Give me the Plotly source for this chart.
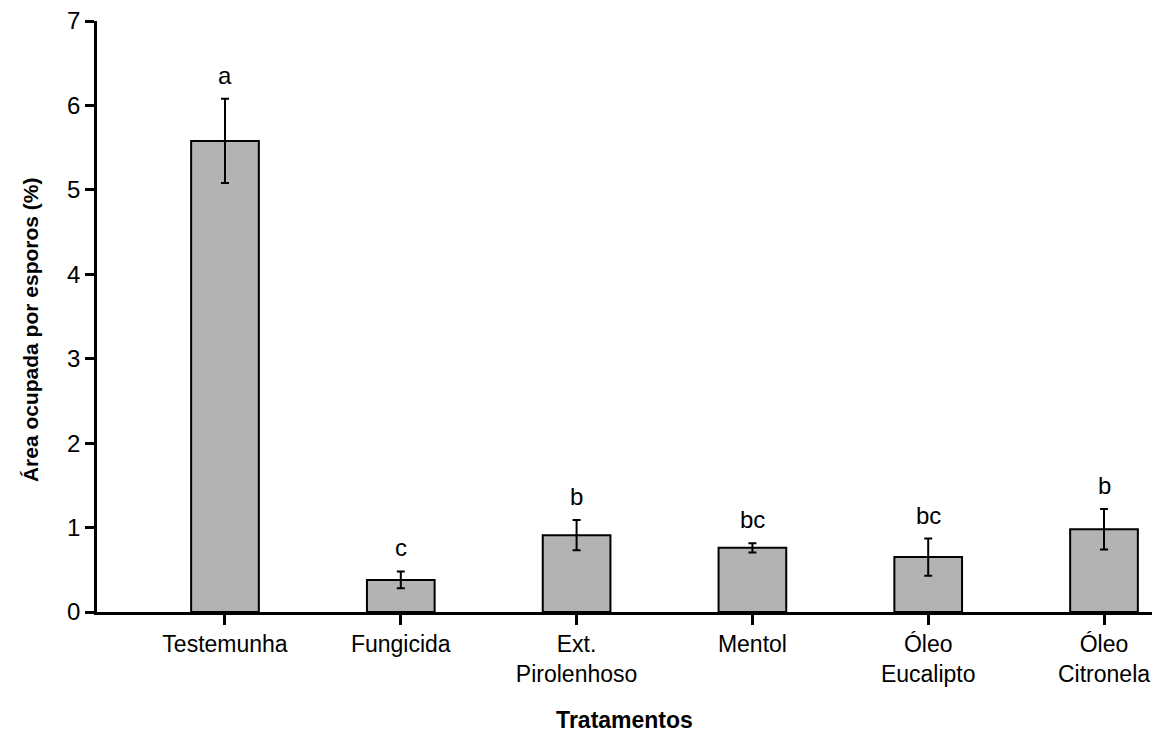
import plotly.graph_objects as go

categories = ["Testemunha", "Fungicida", "Ext.<br>Pirolenhoso", "Mentol", "Óleo<br>Eucalipto", "Óleo<br>Citronela"]
means = [5.58, 0.38, 0.91, 0.76, 0.65, 0.98]
errors = [0.50, 0.10, 0.18, 0.055, 0.22, 0.24]
letters = ["a", "c", "b", "bc", "bc", "b"]
y_ticks = [0, 1, 2, 3, 4, 5, 6, 7]

FONT = "Liberation Sans, Arial, sans-serif"
x_idx = list(range(len(categories)))

fig = go.Figure()
fig.add_trace(go.Bar(
    x=x_idx, y=means, width=0.385,
    marker=dict(color="#b3b3b3", line=dict(color="black", width=2)),
    error_y=dict(type="data", array=errors, visible=True, color="black", thickness=2, width=4),
    showlegend=False,
))

for xi, m, e, lab in zip(x_idx, means, errors, letters):
    fig.add_annotation(x=xi, y=m + e, text=lab, showarrow=False, yanchor="bottom", yshift=8,
                       font=dict(family=FONT, size=24, color="black"))

# y-axis title as annotation (sits slightly below the plot's vertical centre, as in the reference)
fig.add_annotation(xref="paper", yref="paper", x=0, y=0.477, xshift=-67,
                   xanchor="center", yanchor="middle", textangle=-90, showarrow=False,
                   text="<b>Área ocupada por esporos (%)</b>",
                   font=dict(family=FONT, size=21, color="black"))

fig.update_layout(
    width=1152, height=733,
    margin=dict(l=97, r=0, t=21, b=121),
    plot_bgcolor="white", paper_bgcolor="white",
    font=dict(family=FONT, size=24, color="black"),
)
fig.update_xaxes(
    tickmode="array", tickvals=x_idx, ticktext=categories,
    range=[-0.728, 5.273],
    showline=True, linecolor="black", linewidth=2.5,
    ticks="outside", ticklen=10, tickwidth=2.5, tickcolor="black",
    showgrid=False, zeroline=False,
    ticklabeloverflow="allow",
    tickfont=dict(family=FONT, size=23),
    title=dict(text="<b>Tratamentos</b>", font=dict(family=FONT, size=23), standoff=29),
)
fig.update_yaxes(
    range=[0, 7], tickvals=y_ticks,
    showline=True, linecolor="black", linewidth=2.5,
    ticks="outside", ticklen=9, tickwidth=2.5, tickcolor="black",
    showgrid=False, zeroline=False,
    tickfont=dict(family=FONT, size=24),
)

fig.write_html("out.html", config={"displayModeBar": False},
               post_script="document.body.style.margin='0';")
